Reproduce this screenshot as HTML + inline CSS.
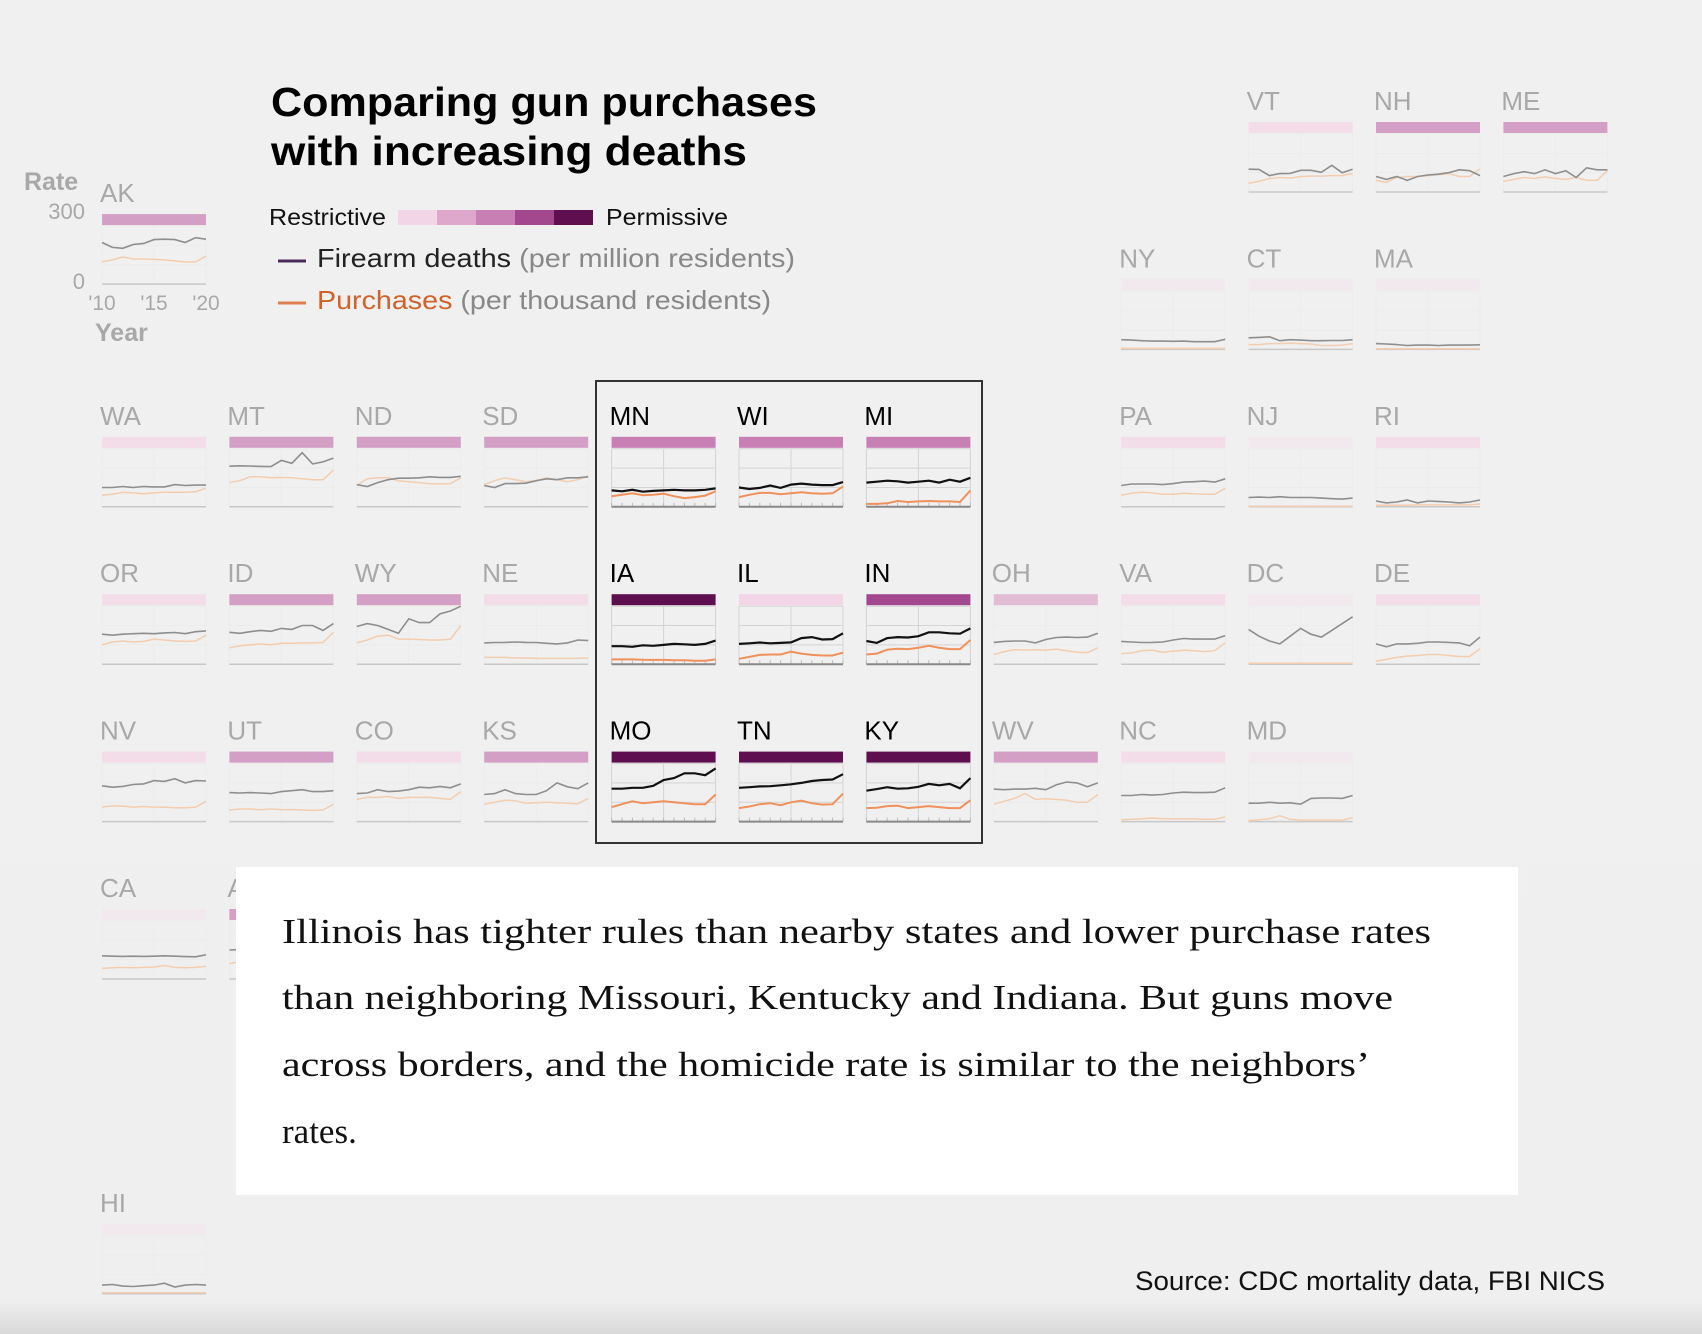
<!DOCTYPE html>
<html><head><meta charset="utf-8">
<style>
html,body{margin:0;padding:0;background:#f0f0f0;}
svg{display:block;}
text{font-family:"Liberation Sans",sans-serif;}
</style></head>
<body>
<svg id="chart" width="1702" height="1334" viewBox="0 0 1702 1334" xmlns="http://www.w3.org/2000/svg">
<defs>
<linearGradient id="bg" x1="0" y1="0" x2="0" y2="1">
<stop offset="0" stop-color="#f0f0f0"/><stop offset="0.975" stop-color="#efefef"/><stop offset="1" stop-color="#d9d9d9"/>
</linearGradient>
</defs>
<rect x="0" y="0" width="1702" height="1334" fill="url(#bg)"/>
<g id="tiles"></g>

<g>
<text x="271" y="116" font-size="41" font-weight="bold" fill="#000" textLength="546" lengthAdjust="spacingAndGlyphs">Comparing gun purchases</text>
<text x="271" y="165" font-size="41" font-weight="bold" fill="#000" textLength="476" lengthAdjust="spacingAndGlyphs">with increasing deaths</text>
</g>

<g>
<text x="269" y="225" font-size="23" fill="#111" textLength="117" lengthAdjust="spacingAndGlyphs">Restrictive</text>
<g id="swatches"></g>
<text x="606" y="225" font-size="23" fill="#111" textLength="122" lengthAdjust="spacingAndGlyphs">Permissive</text>
<line x1="278" y1="261" x2="306" y2="261" stroke="#4a2a5a" stroke-width="3"/>
<text x="317" y="267" font-size="26" fill="#222" textLength="478" lengthAdjust="spacingAndGlyphs">Firearm deaths <tspan fill="#888">(per million residents)</tspan></text>
<line x1="278" y1="303" x2="306" y2="303" stroke="#e08050" stroke-width="3"/>
<text x="317" y="309" font-size="26" fill="#d0622a" textLength="454" lengthAdjust="spacingAndGlyphs">Purchases <tspan fill="#888">(per thousand residents)</tspan></text>
</g>

<g fill="#a8a8a8">
<text x="24" y="190" font-size="25" font-weight="bold">Rate</text>
<text x="85" y="219" font-size="22" text-anchor="end">300</text>
<text x="85" y="289" font-size="22" text-anchor="end">0</text>
<text x="102" y="310" font-size="21" text-anchor="middle">'10</text>
<text x="154" y="310" font-size="21" text-anchor="middle">'15</text>
<text x="206" y="310" font-size="21" text-anchor="middle">'20</text>
<text x="95" y="341" font-size="25" font-weight="bold">Year</text>
</g>

<rect x="596" y="381" width="386" height="462" fill="none" stroke="#333" stroke-width="2"/>

<g>
<rect x="236" y="867" width="1282" height="328" fill="#fff"/>
<text x="282" y="943" style="font-family:'Liberation Serif',serif" font-size="35" fill="#111" textLength="1149" lengthAdjust="spacingAndGlyphs">Illinois has tighter rules than nearby states and lower purchase rates</text>
<text x="282" y="1009" style="font-family:'Liberation Serif',serif" font-size="35" fill="#111" textLength="1111" lengthAdjust="spacingAndGlyphs">than neighboring Missouri, Kentucky and Indiana. But guns move</text>
<text x="282" y="1076" style="font-family:'Liberation Serif',serif" font-size="35" fill="#111" textLength="1088" lengthAdjust="spacingAndGlyphs">across borders, and the homicide rate is similar to the neighbors’</text>
<text x="282" y="1143" style="font-family:'Liberation Serif',serif" font-size="35" fill="#111">rates.</text>
</g>

<text x="1135" y="1290" font-size="27" fill="#111" textLength="470" lengthAdjust="spacingAndGlyphs">Source: CDC mortality data, FBI NICS</text>
</svg>
<script>
// grid layout (col, row) and policy category per state
const states = ["AK","VT","NH","ME","NY","CT","MA","WA","MT","ND","SD","MN","WI","MI","PA","NJ","RI","OR","ID","WY","NE","IA","IL","IN","OH","VA","DC","DE","NV","UT","CO","KS","MO","TN","KY","WV","NC","MD","CA","AZ","HI"];
const cols = [0,9,10,11,8,9,10,0,1,2,3,4,5,6,8,9,10,0,1,2,3,4,5,6,7,8,9,10,0,1,2,3,4,5,6,7,8,9,0,1,0];
const rows = [0.585,0,0,0,1,1,1,2,2,2,2,2,2,2,2,2,2,3,3,3,3,3,3,3,3,3,3,3,4,4,4,4,4,4,4,4,4,4,5,5,7];
const category = [3,1,3,3,0,0,0,1,3,3,3,3,3,3,1,0,1,1,3,3,1,5,1,4,2,1,0,1,1,3,1,3,5,5,5,3,1,0,0,3,0];
const highlighted = ["MN","WI","MI","IA","IL","IN","MO","TN","KY"];
const years = [2010,2011,2012,2013,2014,2015,2016,2017,2018,2019,2020];
const yTicks = [0,100,200,300];
const deaths = {
AK:[215,190,185,205,210,230,232,230,215,240,232],
VT:[118,117,85,95,96,112,112,102,138,100,118],
NH:[80,65,80,60,80,88,92,100,115,110,85],
ME:[80,95,105,95,115,95,110,75,125,115,115],
NY:[50,48,45,43,43,42,43,40,40,40,52],
CT:[60,62,65,45,50,48,45,45,46,46,50],
MA:[30,28,25,20,22,22,20,22,22,22,24],
WA:[100,100,105,100,105,103,103,115,110,112,112],
MT:[210,212,211,209,208,240,225,280,222,232,252],
ND:[115,105,125,140,148,148,150,155,152,152,158],
SD:[110,100,120,120,122,135,145,140,150,150,155],
MN:[85,80,88,78,82,85,88,85,85,88,95],
WI:[100,92,98,110,98,115,120,115,112,112,128],
MI:[125,130,135,132,125,130,135,125,140,130,150],
PA:[110,118,118,118,115,120,128,130,133,128,145],
NJ:[48,50,48,52,48,48,48,45,42,40,45],
RI:[30,20,25,35,20,30,28,25,20,25,35],
OR:[155,150,155,158,160,158,162,164,158,168,172],
ID:[165,160,168,175,170,185,180,200,200,175,210],
WY:[195,210,200,180,160,235,215,215,260,275,300],
NE:[110,112,113,115,113,112,108,105,110,125,122],
IA:[93,93,90,98,95,100,105,103,100,105,122],
IL:[105,108,112,108,110,113,135,140,128,130,160],
IN:[120,110,135,140,138,145,165,165,160,158,185],
OH:[113,118,120,120,110,128,138,140,138,140,160],
VA:[118,115,112,113,115,125,133,130,130,130,148],
DC:[180,145,120,105,145,185,155,140,175,210,245],
DE:[105,90,105,105,108,115,115,113,110,95,140],
NV:[185,178,182,192,195,212,208,222,200,212,210],
UT:[150,148,150,148,145,155,160,165,155,155,160],
CO:[145,148,165,155,158,165,178,175,182,175,195],
KS:[140,145,165,145,140,140,160,200,180,170,200],
MO:[170,170,175,175,185,215,225,250,250,240,275],
TN:[175,178,182,183,188,193,200,210,215,218,245],
KY:[160,168,178,170,172,180,195,188,195,172,225],
WV:[168,165,168,168,172,165,190,205,200,180,200],
NC:[135,135,140,137,140,148,152,150,150,152,175],
MD:[95,95,100,95,97,90,120,122,122,120,135],
CA:[120,118,117,118,117,118,120,118,116,115,125],
AZ:[150,152,150,155,158,160,165,170,168,172,185],
HI:[45,48,40,38,42,45,55,35,45,48,45]
};
const purchases = {
AK:[115,125,140,130,130,128,125,120,115,115,145],
VT:[45,55,70,75,72,80,82,82,85,85,95],
NH:[60,50,75,80,80,85,90,95,80,80,120],
ME:[55,65,75,70,78,70,65,75,60,60,110],
NY:[5,5,5,5,5,5,5,5,5,5,5],
CT:[25,25,30,30,32,30,28,20,20,22,30],
MA:[3,3,3,3,3,3,3,3,3,3,3],
WA:[60,65,75,72,68,72,75,75,75,78,95],
MT:[125,135,155,155,150,152,150,145,140,140,190],
ND:[110,145,150,150,135,130,125,120,118,120,150],
SD:[115,135,150,140,130,135,150,140,130,140,160],
MN:[55,62,70,60,62,68,55,45,50,58,80],
WI:[50,62,72,72,65,70,75,70,68,70,105],
MI:[15,15,18,30,25,28,30,28,28,25,85],
PA:[60,70,75,72,65,65,70,68,65,65,95],
NJ:[3,3,3,3,3,3,3,3,3,3,3],
RI:[8,8,8,8,10,10,10,10,10,10,15],
OR:[100,115,120,115,118,130,125,120,118,120,150],
ID:[85,95,100,105,100,108,108,110,110,112,165],
WY:[110,125,145,150,130,130,128,125,125,130,200],
NE:[35,35,35,32,32,30,30,30,30,30,32],
IA:[25,25,25,23,22,22,20,20,18,18,25],
IL:[28,38,48,50,50,65,55,48,45,45,60],
IN:[50,55,75,80,78,85,95,85,78,78,125],
OH:[50,65,75,73,75,72,78,70,62,60,85],
VA:[55,58,70,72,62,68,72,70,65,70,110],
DC:[5,5,5,5,5,5,5,5,5,5,5],
DE:[15,25,35,42,45,50,50,45,40,40,80],
NV:[75,82,80,75,78,75,75,72,72,75,105],
UT:[60,65,65,62,65,62,62,60,58,60,90],
CO:[115,125,125,130,120,125,125,125,120,115,155],
KS:[90,100,110,108,95,98,100,98,95,92,120],
MO:[75,90,105,95,100,105,100,95,90,90,140],
TN:[70,78,90,95,85,100,108,95,88,90,145],
KY:[70,72,80,82,70,75,80,75,70,70,110],
WV:[90,105,120,145,115,118,115,110,100,100,140],
NC:[10,12,15,18,15,15,15,15,12,12,25],
MD:[5,10,15,30,12,8,8,8,8,8,20],
CA:[55,58,60,58,60,62,70,60,58,60,65],
AZ:[80,90,95,90,88,90,92,90,88,90,120],
HI:[5,5,5,5,5,5,5,5,5,5,5]
};
const legendCats = [1,2,3,4,5];

const NS = "http://www.w3.org/2000/svg";
const catColors = ["#f3e6ee","#f2d5e6","#dda8cb","#c77fb4","#a3478f","#5f0e4f"];
const TW = 104, CH = 58;
function colX(c){ return 102 + 127.4*c; }
function rowY(r){ return 100 + 157.4*r; }
function xScale(i){ return (i/(years.length-1))*TW; }
function yScale(v){ return CH - (v/300)*CH; }
function mk(tag, attrs, parent){
  const e = document.createElementNS(NS, tag);
  for (const k in attrs) e.setAttribute(k, attrs[k]);
  parent.appendChild(e); return e;
}
const sw = document.getElementById('swatches');
legendCats.forEach((c,i)=>{
  const r = mk('rect',{x:398+i*39,y:210,width:39,height:15,fill:catColors[c]},sw);
  
  
});
const tiles = document.getElementById('tiles');
states.forEach((s,k)=>{
  const hi = highlighted.includes(s);
  const x = colX(cols[k]), ly = rowY(rows[k]);
  const g = mk('g',{transform:`translate(${x},${ly})`},tiles);
  
  
  const t = mk('text',{x:-2,y:10,'font-size':26,fill:hi?'#000':'#a8a8a8'},g);
  t.textContent = s;
  
  
  const bar = mk('rect',{x:0,y:22,width:TW,height:11,fill:catColors[category[k]],opacity:hi?1:0.72},g);
  
  
  const cg = mk('g',{transform:'translate(0,34)'},g);
  const gridC = hi ? '#d4d4d4' : '#ececec';
  yTicks.forEach(v=>{ if(v>0) mk('line',{x1:0,x2:TW,y1:yScale(v),y2:yScale(v),stroke:gridC,'stroke-width':1},cg); });
  mk('line',{x1:xScale(5),x2:xScale(5),y1:0,y2:CH,stroke:gridC,'stroke-width':1},cg);
  mk('line',{x1:0,x2:0,y1:0,y2:CH,stroke:gridC,'stroke-width':1},cg);
  mk('line',{x1:TW,x2:TW,y1:0,y2:CH,stroke:gridC,'stroke-width':1},cg);
  if (hi) years.forEach((y,i)=>mk('line',{x1:xScale(i),x2:xScale(i),y1:CH-4,y2:CH,stroke:'#bbb','stroke-width':1},cg));
  mk('line',{x1:0,x2:TW,y1:CH,y2:CH,stroke:hi?'#888':'#c8c8c8','stroke-width':hi?2:1.5},cg);
  const pp = purchases[s].map((v,i)=>xScale(i).toFixed(1)+','+yScale(v).toFixed(1)).join(' ');
  const pl = mk('polyline',{points:pp,fill:'none',stroke:hi?'#f0905a':'#f3cdb0','stroke-width':hi?2:1.5},cg);
  
  
  const dp = deaths[s].map((v,i)=>xScale(i).toFixed(1)+','+yScale(v).toFixed(1)).join(' ');
  const dl = mk('polyline',{points:dp,fill:'none',stroke:hi?'#111':'#8e8e8e','stroke-width':hi?2.2:1.6},cg);
  
  
});
</script>
</body></html>
